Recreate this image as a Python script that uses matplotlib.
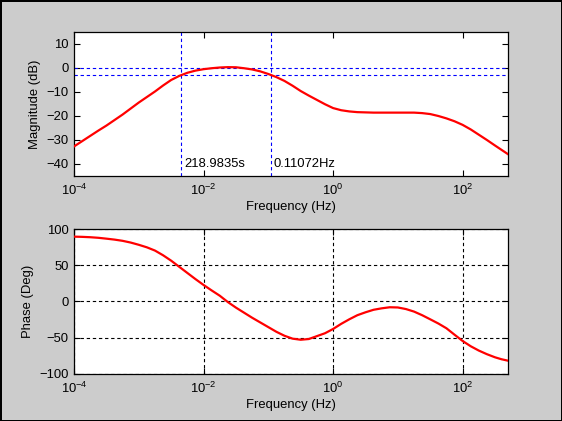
import numpy as np
import matplotlib
matplotlib.use("Agg")
import matplotlib.pyplot as plt
from matplotlib.ticker import FixedLocator, LogFormatterMathtext, NullLocator

plt.rcParams['font.family'] = ['Liberation Sans', 'DejaVu Sans']
plt.rcParams['mathtext.fontset'] = 'custom'
plt.rcParams['mathtext.rm'] = 'Liberation Sans'
plt.rcParams['mathtext.default'] = 'regular'
plt.rcParams['font.size'] = 9.4

# frequency points (log10 Hz)
log_freq = [-4.0, -3.875, -3.75, -3.625, -3.5, -3.375, -3.25, -3.125,
            -3.0, -2.875, -2.75, -2.625, -2.5, -2.375, -2.25, -2.125,
            -2.0, -1.875, -1.75, -1.625, -1.5, -1.375, -1.25, -1.125,
            -1.0, -0.875, -0.75, -0.625, -0.5, -0.375, -0.25, -0.125,
            0.0, 0.125, 0.25, 0.375, 0.5, 0.625, 0.75, 0.875,
            1.0, 1.125, 1.25, 1.375, 1.5, 1.625, 1.75, 1.875,
            2.0, 2.125, 2.25, 2.375, 2.5, 2.6, 2.7]
mag_db = [-32.7, -30.5, -28.3, -26.1, -24.0, -21.7, -19.4, -16.9,
          -14.4, -12.1, -9.8, -7.3, -5.0, -3.3, -2.0, -1.1,
          -0.5, -0.1, 0.2, 0.35, 0.3, -0.1, -0.6, -1.4,
          -2.5, -3.8, -5.4, -7.4, -9.6, -11.5, -13.3, -15.1,
          -16.7, -17.6, -18.1, -18.4, -18.5, -18.6, -18.6, -18.6,
          -18.6, -18.6, -18.6, -18.8, -19.2, -20.0, -21.0, -22.2,
          -23.7, -25.6, -27.8, -30.0, -32.3, -34.1, -35.9]
phase_deg = [89.8, 89.5, 89.0, 88.2, 87.0, 85.7, 84.0, 81.6,
             78.5, 75.0, 70.5, 64.0, 56.5, 48.0, 39.5, 31.0,
             22.9, 15.3, 8.0, -0.8, -8.5, -15.5, -22.5, -29.0,
             -35.5, -42.0, -47.5, -51.5, -53.0, -52.0, -48.0, -44.0,
             -38.1, -31.0, -24.7, -19.0, -15.0, -11.5, -9.5, -8.0,
             -8.3, -10.5, -14.0, -19.0, -24.7, -30.5, -37.1, -46.0,
             -54.7, -62.0, -68.0, -73.0, -77.3, -80.0, -82.0]

# bandwidth markers
t_low = 218.9835          # s
f_high = 0.11072          # Hz
ref_levels = [0, -3]      # dB

freq = 10.0 ** np.array(log_freq)
xticks = [1e-4, 1e-2, 1e0, 1e2]

fig = plt.figure(figsize=(5.62, 4.21), dpi=100)
fig.patch.set_facecolor('#cccccc')
fig.patch.set_edgecolor('black')
fig.patch.set_linewidth(1.0)

ax1 = fig.add_axes([0.1317, 0.582, 0.772, 0.342])
ax2 = fig.add_axes([0.1317, 0.1124, 0.772, 0.343])

dash = (0, (3, 2.5))

# magnitude
ax1.semilogx(freq, mag_db, color='red', lw=1.6, zorder=3)
for lv in ref_levels:
    ax1.axhline(lv, color='blue', lw=0.8, ls=dash, zorder=2)
ax1.axvline(1.0 / t_low, color='blue', lw=0.8, ls=dash, zorder=2)
ax1.axvline(f_high, color='blue', lw=0.8, ls=dash, zorder=2)
ax1.text(1.0 / t_low * 1.1, -40, f"{t_low}s", va='center', ha='left')
ax1.text(f_high * 1.1, -40, f"{f_high}Hz", va='center', ha='left')
ax1.set_ylim(-45, 15)
ax1.set_yticks([-40, -30, -20, -10, 0, 10])
ax1.set_ylabel('Magnitude (dB)')

# phase
ax2.semilogx(freq, phase_deg, color='red', lw=1.6, zorder=3)
ax2.set_ylim(-100, 100)
ax2.set_yticks([-100, -50, 0, 50, 100])
ax2.grid(True, color='black', lw=0.8, ls=dash)
ax2.set_ylabel('Phase (Deg)')

for ax in (ax1, ax2):
    ax.set_xlim(1e-4, 500)
    ax.xaxis.set_major_locator(FixedLocator(xticks))
    ax.xaxis.set_major_formatter(LogFormatterMathtext())
    ax.xaxis.set_minor_locator(NullLocator())
    ax.tick_params(direction='in', top=True, right=True, length=4, width=0.8, pad=4)
    ax.tick_params(axis='x', pad=5)
    ax.set_xlabel('Frequency (Hz)', labelpad=2)
    for sp in ax.spines.values():
        sp.set_linewidth(0.9)

fig.savefig('out.png', dpi=100, facecolor=fig.get_facecolor(), edgecolor=fig.get_edgecolor())
